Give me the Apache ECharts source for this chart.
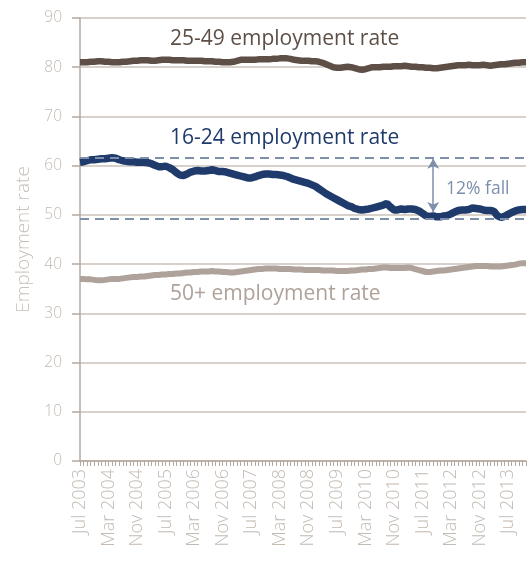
<!DOCTYPE html>
<html><head><meta charset="utf-8">
<script src="https://cdn.jsdelivr.net/npm/echarts@6/dist/echarts.min.js"></script>
<style>html,body{margin:0;padding:0;background:#fff}#c{width:527px;height:567px}</style>
</head><body><div id="c"></div>
<script>
const monthNames = ['Jan','Feb','Mar','Apr','May','Jun','Jul','Aug','Sep','Oct','Nov','Dec'];
const categories = [];
for (let i = 0; i < 126; i++) { const m = (6 + i) % 12; const y = 2003 + Math.floor((6 + i) / 12); categories.push(monthNames[m] + ' ' + y); }

const rate2549 = [
81.0,81.0,81.0,81.1,81.1,81.2,81.2, 81.1,81.1,81.0,81.0,81.0,81.1,81.1,
81.2,81.3,81.3,81.4,81.4,81.4,81.3, 81.3,81.4,81.5,81.5,81.5,81.4,81.4,
81.4,81.4,81.3,81.3,81.3,81.3,81.3, 81.2,81.2,81.2,81.1,81.1,81.0,81.0,
81.0,81.1,81.3,81.5,81.5,81.5,81.5, 81.5,81.6,81.6,81.6,81.6,81.7,81.7,
81.8,81.8,81.8,81.7,81.5,81.4,81.3, 81.3,81.3,81.2,81.2,81.1,80.9,80.6,
80.3,80.0,79.9,79.9,80.0,80.1,80.0, 79.8,79.6,79.5,79.6,79.8,80.0,80.0,
80.0,80.1,80.1,80.1,80.2,80.2,80.2, 80.3,80.2,80.1,80.1,80.0,80.0,79.9,
79.9,79.8,79.8,79.9,80.0,80.1,80.2, 80.3,80.4,80.4,80.4,80.5,80.4,80.4,
80.4,80.5,80.4,80.3,80.4,80.5,80.6, 80.6,80.7,80.8,80.9,80.9,81.0,81.0];

const rate1624 = [
60.7,60.8,61.0,61.2,61.2,61.3,61.4, 61.4,61.5,61.6,61.5,61.2,61.0,60.9,
60.8,60.8,60.7,60.7,60.7,60.6,60.4, 60.1,59.8,59.8,59.9,59.6,59.2,58.6,
58.1,58.0,58.3,58.7,58.9,59.0,58.9, 58.9,59.0,59.2,59.0,58.8,58.8,58.7,
58.5,58.3,58.1,57.9,57.7,57.5,57.5, 57.7,58.0,58.2,58.3,58.3,58.2,58.2,
58.1,58.0,57.8,57.5,57.2,57.0,56.8, 56.6,56.4,56.1,55.8,55.3,54.8,54.3,
53.9,53.5,53.1,52.7,52.3,51.9,51.7, 51.3,51.1,51.0,51.1,51.2,51.4,51.6,
51.8,52.0,52.3,51.6,51.0,51.0,51.2, 51.1,51.2,51.2,51.1,50.8,50.3,49.8,
49.7,49.8,49.6,49.6,49.8,49.9,50.2, 50.6,50.9,51.0,51.0,51.1,51.4,51.3,
51.2,51.0,50.9,50.9,50.7,49.8,49.5, 49.7,50.1,50.5,50.8,51.0,51.1,51.1];

const rate50plus = [
37.0,37.0,36.9,36.9,36.8,36.7,36.7, 36.8,36.9,37.0,37.0,37.0,37.1,37.2,
37.3,37.4,37.4,37.5,37.5,37.6,37.7, 37.8,37.8,37.9,37.9,38.0,38.0,38.1,
38.1,38.2,38.3,38.3,38.4,38.4,38.5, 38.5,38.5,38.6,38.5,38.5,38.4,38.4,
38.3,38.3,38.4,38.5,38.6,38.7,38.8, 38.9,39.0,39.0,39.1,39.1,39.1,39.1,
39.0,39.0,39.0,39.0,38.9,38.9,38.9, 38.8,38.8,38.8,38.8,38.8,38.7,38.7,
38.7,38.7,38.6,38.6,38.6,38.6,38.7, 38.7,38.8,38.9,38.9,39.0,39.0,39.1,
39.2,39.3,39.3,39.2,39.2,39.2,39.2, 39.2,39.3,39.2,39.0,38.8,38.6,38.4,
38.4,38.5,38.6,38.7,38.7,38.8,38.9, 39.0,39.1,39.2,39.3,39.4,39.5,39.6,
39.6,39.6,39.6,39.5,39.5,39.5,39.5, 39.6,39.7,39.8,39.9,40.1,40.2,40.2];

const peakLevel = 61.6, troughLevel = 49.2;
const arrowIndex = 99, arrowTop = 61.4, arrowBottom = 50.6;
const yTicks = {min: 0, max: 90, interval: 10};

const FONT = '"Open Sans", sans-serif';
const axisCol = '#b3a89f', labelCol = '#c3bab2', dashCol = '#7d8fab';

const chart = echarts.init(document.getElementById('c'));
chart.setOption({
  animation: false,
  textStyle: {fontFamily: FONT},
  grid: {left: 80, right: 1, top: 18, bottom: 106, containLabel: false},
  xAxis: {
    type: 'category', data: categories, boundaryGap: false,
    axisLine: {show: true, lineStyle: {color: axisCol, width: 1.5}},
    axisTick: {show: true, interval: 0, length: 5, lineStyle: {color: axisCol, width: 1}},
    axisLabel: {interval: 7, rotate: 90, color: labelCol, fontSize: 18, fontWeight: 300, fontFamily: FONT, margin: 8},
    splitLine: {show: false}
  },
  yAxis: {
    type: 'value', min: yTicks.min, max: yTicks.max, interval: yTicks.interval,
    name: 'Employment rate', nameLocation: 'middle', nameGap: 47,
    nameTextStyle: {color: '#c9c0b9', fontSize: 19, fontWeight: 300, fontFamily: FONT},
    axisLine: {show: true, lineStyle: {color: axisCol, width: 1.5}},
    axisTick: {show: true, length: 8, lineStyle: {color: axisCol, width: 1.5}},
    axisLabel: {color: labelCol, fontSize: 15.5, fontWeight: 300, fontFamily: FONT, margin: 18},
    splitLine: {show: true, lineStyle: {color: '#cbc2ba', width: 1.5}}
  },
  series: [
    {name: '25-49', type: 'line', data: rate2549, symbol: 'none', smooth: false,
     lineStyle: {color: '#5d4f46', width: 6.5}, z: 3},
    {name: '16-24', type: 'line', data: rate1624, symbol: 'none',
     lineStyle: {color: '#1f3b6b', width: 7.5}, z: 4,
     markLine: {silent: true, symbol: ['none', 'none'], label: {show: false},
       lineStyle: {color: dashCol, type: [9, 6], width: 2},
       data: [{yAxis: peakLevel}, {yAxis: troughLevel},
         [{coord: [arrowIndex, arrowTop], symbol: 'arrow', symbolSize: [9, 10], lineStyle: {type: 'solid', width: 1.5}},
          {coord: [arrowIndex, arrowBottom], symbol: 'arrow', symbolSize: [9, 10]}]]}},
    {name: '50+', type: 'line', data: rate50plus, symbol: 'none',
     lineStyle: {color: '#aea29a', width: 6}, z: 3}
  ],
  graphic: [
    {type: 'text', left: 170, top: 29, style: {text: '25-49 employment rate', fill: '#5d4f46', font: '21px ' + FONT}},
    {type: 'text', left: 170, top: 128, style: {text: '16-24 employment rate', fill: '#1f3b6b', font: '21px ' + FONT}},
    {type: 'text', left: 170, top: 284, style: {text: '50+ employment rate', fill: '#aea29a', font: '21px ' + FONT}},
    {type: 'text', left: 446, top: 180, style: {text: '12% fall', fill: dashCol, font: '17.5px ' + FONT}}
  ]
});
</script></body></html>
